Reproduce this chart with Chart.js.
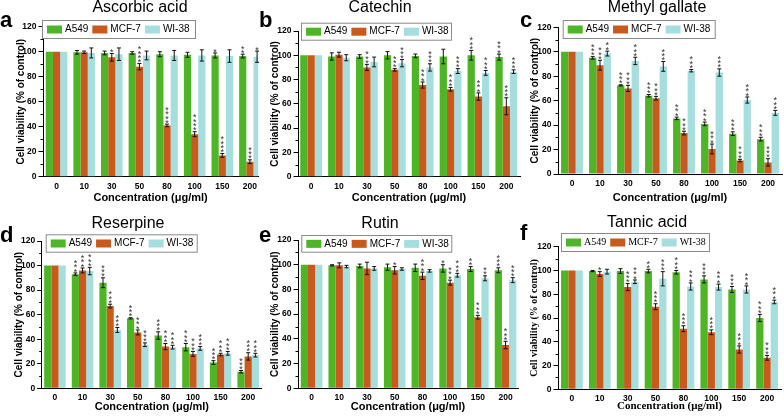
<!DOCTYPE html>
<html>
<head>
<meta charset="utf-8">
<script src="https://cdn.jsdelivr.net/npm/chart.js@4/dist/chart.umd.min.js"></script>
<style>
  html, body { margin: 0; padding: 0; background: #fff; }
  #fig { position: relative; width: 784px; height: 417px; overflow: hidden; }
  #fig canvas { position: absolute; }
  .tag { position: absolute; font: bold 22px Arial, "Liberation Sans", sans-serif; line-height: 22px; color: #000; }
</style>
</head>
<body>
<div id="fig">
  <canvas id="cA" width="262" height="205" style="left:0;top:0"></canvas>
  <canvas id="cB" width="260" height="205" style="left:262px;top:0"></canvas>
  <canvas id="cC" width="262" height="205" style="left:522px;top:0"></canvas>
  <canvas id="cD" width="262" height="212" style="left:0;top:205px"></canvas>
  <canvas id="cE" width="260" height="212" style="left:262px;top:205px"></canvas>
  <canvas id="cF" width="262" height="212" style="left:522px;top:205px"></canvas>
  <div class="tag" style="left:0;top:9px">a</div>
  <div class="tag" style="left:259px;top:9px">b</div>
  <div class="tag" style="left:520px;top:9px">c</div>
  <div class="tag" style="left:0;top:224px">d</div>
  <div class="tag" style="left:259px;top:224px">e</div>
  <div class="tag" style="left:520px;top:222px">f</div>
</div>
<script>
// shared labels / colours
const concLabels = ['0', '10', '30', '50', '80', '100', '150', '200'];
const cellLines = ['A549', 'MCF-7', 'WI-38'];
const barColors = ['#4db526', '#c85a1e', '#a6dede'];

// rows: A549, MCF-7, WI-38  (mean % viability, error, number of stars)
const ascorbicMean = [
  [100, 99.5, 99, 99, 98, 97.5, 97, 96.5],
  [100, 99.5, 95.5, 88, 41, 34, 17, 12],
  [100, 99, 98, 97, 97, 97, 96.5, 96]
];
const ascorbicErr = [
  [0, 1.5, 1.5, 1, 2, 2, 2, 1.5],
  [0, 1, 3, 2.5, 1, 2, 1.5, 1.5],
  [0, 4, 5, 3.5, 4, 4.5, 5, 4.5]
];
const ascorbicStars = [
  [0, 0, 0, 0, 0, 0, 1, 2],
  [0, 0, 1, 4, 4, 4, 4, 3],
  [0, 0, 0, 0, 0, 0, 0, 1]
];

const catechinMean = [
  [100, 99, 99, 100, 99.5, 99, 100, 98.5],
  [100, 100.5, 90, 88, 75.5, 72, 66, 58],
  [100, 98, 94.5, 93.5, 90, 87, 85.5, 86.5]
];
const catechinErr = [
  [0, 3, 1.5, 3, 1.5, 6, 4, 2.5],
  [0, 2, 2.5, 1, 2.5, 1.5, 3, 7],
  [0, 2.5, 4, 3, 3, 2, 2, 1.5]
];
const catechinStars = [
  [0, 0, 0, 0, 0, 0, 3, 3],
  [0, 0, 3, 3, 3, 3, 3, 3],
  [0, 0, 0, 3, 3, 3, 3, 3]
];

const gallateMean = [
  [100, 95, 72.5, 64, 45.5, 41, 33, 28.5],
  [100, 89, 70, 62, 33.5, 20.5, 11, 9.5],
  [100, 98.5, 92.5, 88, 84.5, 83, 60.5, 50]
];
const gallateErr = [
  [0, 1, 0.5, 1, 1, 1.5, 1.5, 1.5],
  [0, 4, 2.5, 1.5, 1.5, 4, 1, 3],
  [0, 2, 3, 4, 1, 3, 2.5, 2]
];
const gallateStars = [
  [0, 3, 3, 3, 3, 3, 3, 3],
  [0, 3, 3, 3, 3, 3, 3, 3],
  [0, 2, 3, 3, 3, 3, 3, 3]
];

const reserpineMean = [
  [100, 93, 86, 57, 43, 33.5, 21, 13.5],
  [100, 96, 67, 45.5, 34, 28, 27.5, 26],
  [100, 95.5, 47.5, 35.5, 33.5, 32.5, 28.5, 27]
];
const reserpineErr = [
  [0, 1, 4, 0.5, 3, 3, 1.5, 1],
  [0, 2, 1.5, 2, 2.5, 2, 1, 3],
  [0, 3, 2, 1.5, 1.5, 1.5, 1.5, 1.5]
];
const reserpineStars = [
  [0, 3, 3, 3, 3, 3, 3, 3],
  [0, 3, 3, 3, 3, 3, 3, 3],
  [0, 3, 3, 3, 3, 3, 3, 3]
];

const rutinMean = [
  [100, 99.5, 99, 98, 97.5, 97, 96.5, 95.5],
  [100, 99.5, 97, 95.5, 91, 85.5, 57.5, 35],
  [100, 98.5, 97, 96.5, 95, 91.5, 89, 87.5]
];
const rutinErr = [
  [0, 0.5, 1.5, 2.5, 3, 3, 2, 2],
  [0, 2, 5, 3, 3, 2, 1.5, 3],
  [0, 1, 1.5, 1, 1, 1.5, 2, 2]
];
const rutinStars = [
  [0, 0, 0, 0, 0, 1, 2, 3],
  [0, 0, 0, 1, 3, 3, 3, 3],
  [0, 0, 0, 0, 0, 3, 2, 3]
];

const tannicMean = [
  [100, 99.5, 99.5, 99.5, 98.5, 92.5, 84, 60],
  [100, 97, 86, 69.5, 51, 48, 33.5, 26.5],
  [100, 99, 90.5, 93, 86.5, 86, 84, 73.5]
];
const tannicErr = [
  [0, 0.5, 2, 1.5, 1.5, 3, 2.5, 3],
  [0, 2, 3, 2.5, 2.5, 2, 3, 2],
  [0, 2, 1.5, 6, 3, 2.5, 3, 1.5]
];
const tannicStars = [
  [0, 0, 0, 2, 3, 3, 3, 3],
  [0, 1, 3, 3, 3, 3, 3, 3],
  [0, 0, 3, 3, 3, 3, 3, 3]
];

const SANS = 'Arial, "Liberation Sans", sans-serif';
const SERIF = '"Times New Roman", "Liberation Serif", serif';

// error bars + significance stars
const errorStars = {
  id: 'errorStars',
  afterDatasetsDraw(chart) {
    const ctx = chart.ctx;
    const y = chart.scales.y;
    ctx.save();
    chart.data.datasets.forEach((ds, d) => {
      chart.getDatasetMeta(d).data.forEach((bar, i) => {
        const v = ds.data[i].y, e = ds.err[i], n = ds.stars[i];
        let top = bar.y;
        if (e > 0) {
          top = y.getPixelForValue(v + e);
          const bot = y.getPixelForValue(v - e);
          ctx.strokeStyle = '#111';
          ctx.lineWidth = 1;
          ctx.beginPath();
          ctx.moveTo(bar.x, top); ctx.lineTo(bar.x, bot);
          ctx.moveTo(bar.x - 2, top); ctx.lineTo(bar.x + 2, top);
          ctx.moveTo(bar.x - 2, bot); ctx.lineTo(bar.x + 2, bot);
          ctx.stroke();
        }
        ctx.fillStyle = '#333';
        ctx.font = '9px ' + SANS;
        ctx.textAlign = 'center';
        ctx.textBaseline = 'alphabetic';
        for (let k = 0; k < n; k++) {
          ctx.fillText('*', bar.x, top - 3.5 - k * 4.3 + 5.1);
        }
      });
    });
    ctx.restore();
  }
};

// title placement, minor y ticks, boxed legend
const panelExtras = {
  id: 'panelExtras',
  afterLayout(chart, args, opts) {
    const t = chart.titleBlock;
    const shift = opts.titleX - (t.left + t.right) / 2;
    t.left += shift;
    t.right += shift;
  },
  afterDraw(chart, args, opts) {
    const {ctx, chartArea} = chart;
    const y = chart.scales.y;
    ctx.save();
    ctx.strokeStyle = '#000';
    ctx.lineWidth = 1;
    for (let v = 10; v < 120; v += 20) {
      const py = Math.round(y.getPixelForValue(v)) + 0.5;
      ctx.beginPath();
      ctx.moveTo(chartArea.left - 2.5, py);
      ctx.lineTo(chartArea.left, py);
      ctx.stroke();
    }
    const b = opts.box;
    ctx.fillStyle = '#fff';
    ctx.fillRect(b.x, b.y, b.w, b.h);
    ctx.strokeStyle = '#8a8a8a';
    ctx.strokeRect(b.x + 0.5, b.y + 0.5, b.w, b.h);
    ctx.font = opts.font;
    ctx.textAlign = 'left';
    ctx.textBaseline = 'middle';
    const cy = b.y + b.h / 2 + 0.5;
    let x = b.x + 5;
    chart.data.datasets.forEach(ds => {
      ctx.fillStyle = ds.backgroundColor;
      ctx.fillRect(x, cy - 4, 15, 8);
      x += 18;
      ctx.fillStyle = '#000';
      ctx.fillText(ds.label, x, cy);
      x += ctx.measureText(ds.label).width + 4;
    });
    ctx.restore();
  }
};

const panels = [
  { id: 'cA', title: 'Ascorbic acid', mean: ascorbicMean, err: ascorbicErr, stars: ascorbicStars,
    W: 262, H: 205, L: 43, T: 26.7, R: 262, B: 176.7, xMin: -0.49, xMax: 7.3,
    titleX: 140, titleY: 7, yTitleX: 21, xTitleY: 198.5, tickPad: 5, box: { x: 42, y: 20, w: 153, h: 18 } },
  { id: 'cB', title: 'Catechin', mean: catechinMean, err: catechinErr, stars: catechinStars,
    W: 260, H: 205, L: 36, T: 31, R: 258, B: 176.7, xMin: -0.47, xMax: 7.49,
    titleX: 118, titleY: 7, yTitleX: 13, xTitleY: 197.5, tickPad: 5, box: { x: 39, y: 22.7, w: 150, h: 17 } },
  { id: 'cC', title: 'Methyl gallate', mean: gallateMean, err: gallateErr, stars: gallateStars,
    W: 262, H: 205, L: 36, T: 27.3, R: 260, B: 174, xMin: -0.5, xMax: 7.5,
    titleX: 135, titleY: 7.5, yTitleX: 13, xTitleY: 198.3, tickPad: 5, box: { x: 40.7, y: 20, w: 152, h: 18 } },
  { id: 'cD', title: 'Reserpine', mean: reserpineMean, err: reserpineErr, stars: reserpineStars,
    W: 262, H: 212, L: 41.7, T: 36, R: 262, B: 183.3, xMin: -0.48, xMax: 7.5,
    titleX: 128, titleY: 19, yTitleX: 19, xTitleY: 201.5, tickPad: 4.5, box: { x: 45.7, y: 29.3, w: 151, h: 17.4 } },
  { id: 'cE', title: 'Rutin', mean: rutinMean, err: rutinErr, stars: rutinStars,
    W: 260, H: 212, L: 36, T: 35, R: 256, B: 183.3, xMin: -0.49, xMax: 7.45,
    titleX: 118, titleY: 19, yTitleX: 13, xTitleY: 201.5, tickPad: 4.5, box: { x: 39.3, y: 30, w: 150, h: 16.7 } },
  { id: 'cF', title: 'Tannic acid', mean: tannicMean, err: tannicErr, stars: tannicStars, serif: true,
    W: 262, H: 212, L: 36, T: 41.7, R: 259, B: 184.3, xMin: -0.5, xMax: 7.5,
    titleX: 125, titleY: 18, yTitleX: 12, xTitleY: 201.5, tickPad: 4.5, box: { x: 39, y: 28, w: 148, h: 18 } }
];

panels.forEach(p => {
  const labelFamily = p.serif ? SERIF : SANS;
  const titleTop = Math.max(0, p.titleY - 8);
  const datasets = cellLines.map((name, d) => ({
    label: name,
    data: p.mean[d].map((v, i) => ({ x: i, y: v })),
    err: p.err[d],
    stars: p.stars[d],
    backgroundColor: barColors[d],
    borderWidth: 0,
    barPercentage: 1,
    categoryPercentage: 0.78
  }));

  new Chart(document.getElementById(p.id), {
    type: 'bar',
    data: { datasets },
    plugins: [errorStars, panelExtras],
    options: {
      responsive: false,
      animation: false,
      events: [],
      layout: { padding: { left: 0, top: 0, bottom: 0, right: p.W - p.R } },
      plugins: {
        legend: { display: false },
        tooltip: { enabled: false },
        title: {
          display: true,
          text: p.title,
          color: '#000',
          font: { family: SANS, size: 16, weight: 'normal', lineHeight: 1 },
          padding: { top: titleTop, bottom: p.T - titleTop - 16 }
        },
        panelExtras: { titleX: p.titleX, box: p.box, font: '10px ' + labelFamily }
      },
      scales: {
        x: {
          type: 'linear',
          offset: false,
          min: p.xMin,
          max: p.xMax,
          afterBuildTicks: s => { s.ticks = concLabels.map((_, i) => ({ value: i })); },
          afterFit: s => { s.height = p.H - p.B; },
          grid: { display: false, drawTicks: false, offset: false },
          border: { display: true, color: '#000', width: 1 },
          ticks: {
            color: '#000',
            padding: p.tickPad,
            maxRotation: 0,
            autoSkip: false,
            font: { family: SANS, size: 8.5, weight: 'bold' },
            callback: v => concLabels[v]
          },
          title: {
            display: true,
            text: 'Concentration (μg/ml)',
            color: '#000',
            font: { family: labelFamily, size: 11, weight: 'bold', lineHeight: 1.2 },
            padding: { top: 0, bottom: Math.max(0, p.H - p.xTitleY - 6.6) }
          }
        },
        y: {
          min: 0,
          max: 120,
          afterFit: s => { s.width = p.L; },
          grid: { drawOnChartArea: false, drawTicks: true, tickLength: 4.5, color: '#000' },
          border: { display: true, color: '#000', width: 1 },
          ticks: {
            stepSize: 20,
            color: '#000',
            padding: 2,
            font: { family: SANS, size: 8.5, weight: 'bold' }
          },
          title: {
            display: true,
            text: 'Cell viability (% of control)',
            color: '#000',
            font: { family: labelFamily, size: 10, weight: 'bold', lineHeight: 1.2 },
            padding: { top: Math.max(0, p.yTitleX - 6), bottom: 0 }
          }
        }
      }
    }
  });
});
</script>
</body>
</html>
